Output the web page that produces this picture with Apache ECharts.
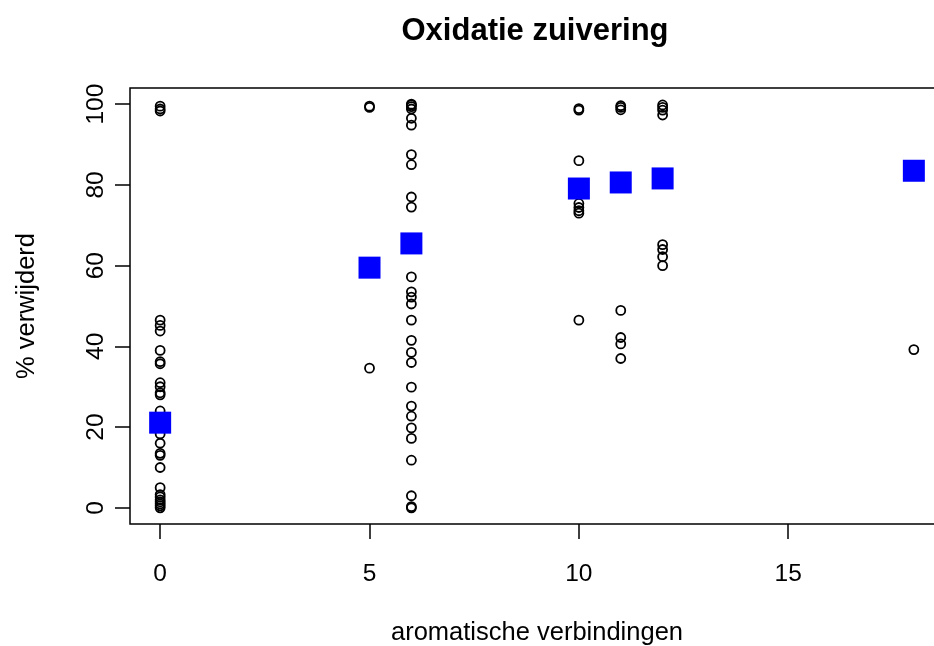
<!DOCTYPE html>
<html>
<head>
<meta charset="utf-8">
<script src="https://cdn.jsdelivr.net/npm/echarts@6/dist/echarts.min.js"></script>
<style>
html,body{margin:0;padding:0;background:#fff;overflow:hidden;width:934px;height:646px;}
#chart{width:960px;height:646px;}
</style>
</head>
<body>
<div id="chart"></div>
<script>
// ---- data ----
const titleText = "Oxidatie zuivering";
const xName = "aromatische verbindingen";
const yName = "% verwijderd";
const xTicks = [0, 5, 10, 15];
const yTicks = [0, 20, 40, 60, 80, 100];

const pts0  = [99.5, 98.8, 98.3, 46.5, 45.2, 43.8, 39, 36.2, 35.7, 31, 30, 28.5, 28, 24, 18.3, 16, 13.5, 13, 10, 5, 3.3, 2.7, 2, 1.5, 1, 0.5, 0];
const pts5  = [99.5, 99.2, 34.6];
const pts6  = [100, 99.8, 99.4, 98.8, 96.5, 94.8, 87.5, 85, 77, 74.5, 57.2, 53.5, 52.2, 50.5, 46.5, 41.5, 38.5, 36, 29.9, 25.2, 22.7, 19.8, 17.2, 11.8, 3, 0.3, 0];
const pts10 = [98.9, 98.5, 86, 75.4, 74.4, 73.6, 73, 46.5];
const pts11 = [99.6, 99.2, 98.6, 48.9, 42.2, 40.6, 37];
const pts12 = [99.8, 99.2, 98.5, 97.3, 65.2, 64, 62.2, 60];
const pts18 = [39.2];

const meanX = [0, 5, 6, 10, 11, 12, 18];
const meanY = [21.1, 59.5, 65.5, 79.1, 80.6, 81.6, 83.5];

// ---- build series data ----
const groups = [[0, pts0], [5, pts5], [6, pts6], [10, pts10], [11, pts11], [12, pts12], [18, pts18]];
const circleData = [];
groups.forEach(([x, arr]) => arr.forEach(v => circleData.push([x, v])));
const meanData = meanX.map((x, i) => [x, meanY[i]]);

const FONT = "'Liberation Sans', Arial, sans-serif";
const chart = echarts.init(document.getElementById('chart'), null, {renderer: 'canvas', width: 960, height: 646});
chart.setOption({
  animation: false,
  backgroundColor: '#fff',
  title: {
    text: titleText,
    left: 530,
    top: 11,
    textAlign: 'center',
    textStyle: {fontFamily: FONT, fontSize: 31, fontWeight: 'bold', color: '#000'}
  },
  grid: {
    left: 130, top: 88, width: 814, height: 436,
    outerBoundsMode: 'none',
    containLabel: false,
    show: true, borderColor: '#000', borderWidth: 1.5, backgroundColor: 'transparent'
  },
  xAxis: {
    type: 'value',
    min: -0.72, max: 18.72,
    name: xName,
    nameLocation: 'middle',
    nameGap: 96,
    nameTextStyle: {fontFamily: FONT, fontSize: 25.5, color: '#000'},
    axisLine: {show: false, onZero: false},
    splitLine: {show: false},
    axisTick: {show: true, inside: false, length: 15, customValues: xTicks, lineStyle: {color: '#000', width: 1.5}},
    axisLabel: {show: true, customValues: xTicks, margin: 38, fontFamily: FONT, fontSize: 24.5, color: '#000'}
  },
  yAxis: {
    type: 'value',
    min: -4, max: 104,
    name: yName,
    nameLocation: 'middle',
    nameGap: 90,
    nameRotate: 90,
    nameTextStyle: {fontFamily: FONT, fontSize: 25.5, color: '#000'},
    axisLine: {show: false, onZero: false},
    splitLine: {show: false},
    axisTick: {show: true, inside: false, length: 15, customValues: yTicks, lineStyle: {color: '#000', width: 1.5}},
    axisLabel: {show: true, customValues: yTicks, rotate: 90, margin: 21, fontFamily: FONT, fontSize: 24.5, color: '#000'}
  },
  series: [
    {
      type: 'scatter',
      data: circleData,
      symbol: 'circle',
      symbolSize: 9,
      itemStyle: {color: 'rgba(0,0,0,0)', borderColor: '#000', borderWidth: 1.8, opacity: 1},
      z: 2,
      silent: true
    },
    {
      type: 'scatter',
      data: meanData,
      symbol: 'rect',
      symbolSize: 22,
      itemStyle: {color: '#0000FF', opacity: 1},
      z: 3,
      silent: true
    }
  ]
});
</script>
</body>
</html>
